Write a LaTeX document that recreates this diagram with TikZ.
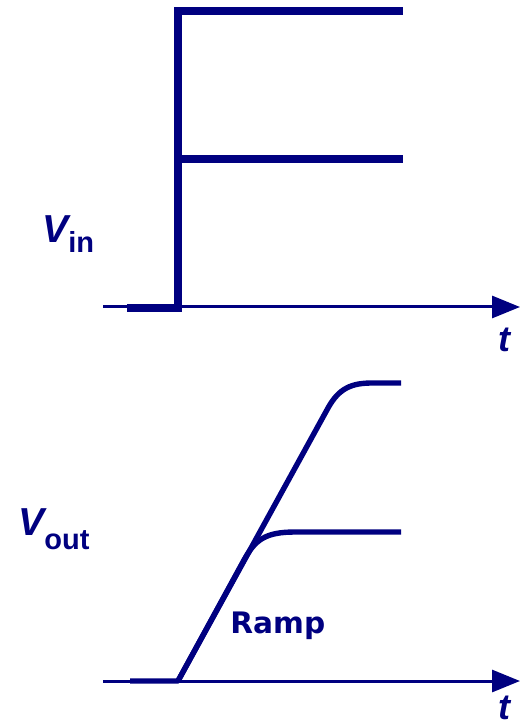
\documentclass[tikz,border=0pt]{standalone}
\usepackage{fontspec}
\setmainfont{Liberation Sans}
\newfontfamily\rampfont{DejaVu Sans}
\usetikzlibrary{arrows.meta}
\definecolor{wave}{RGB}{0,0,128}

\begin{document}
\begin{tikzpicture}[x=0.5pt,y=-0.5pt,
        axisline/.style={wave, line width=1.5pt, -{Triangle[length=14pt,width=11pt]}},
        stepline/.style={wave, line width=4pt},
        rampline/.style={wave, line width=2.7pt, line join=round},
        lbl/.style={text=wave, inner sep=0pt, font=\bfseries}]
    \useasboundingbox (0,0) rectangle (520,726);
    % input step
    \coordinate (inStart) at (103,307);
    \coordinate (inEnd) at (520,307);
    \draw[axisline] (inStart) -- (inEnd);
    \draw[stepline] (127,308) -- (178,308) -- (178,11) -- (403,11);
    \draw[stepline] (178,159) -- (403,159);
    \node[lbl, anchor=base west] (vin) at (42,243)
        {\fontsize{19.5}{20}\selectfont\itshape V\upshape\fontsize{14.5}{15}\selectfont\raisebox{-5pt}{in}};
    \node[lbl, anchor=base] (tIn) at (504,351) {\fontsize{18}{18}\selectfont\itshape t};
    % output ramp
    \coordinate (outStart) at (103,681);
    \coordinate (outEnd) at (520,681);
    \draw[axisline] (outStart) -- (outEnd);
    \draw[rampline] (130,681) -- (178,681) -- (328,408)
        .. controls (339,388) and (352,383) .. (372,383) -- (401,383);
    \draw[rampline] (178,681) -- (244,560)
        .. controls (255,540) and (265,532) .. (295,532) -- (401,532);
    \node[lbl, anchor=base west] (vout) at (18,535)
        {\fontsize{19.5}{20}\selectfont\itshape V\upshape\fontsize{14.5}{15}\selectfont\raisebox{-7pt}{out}};
    \node[lbl, anchor=base west] (ramp) at (230,633) {\rampfont\fontsize{14.8}{15}\selectfont Ramp};
    \node[lbl, anchor=base] (tOut) at (504,719) {\fontsize{18}{18}\selectfont\itshape t};
\end{tikzpicture}
\end{document}
